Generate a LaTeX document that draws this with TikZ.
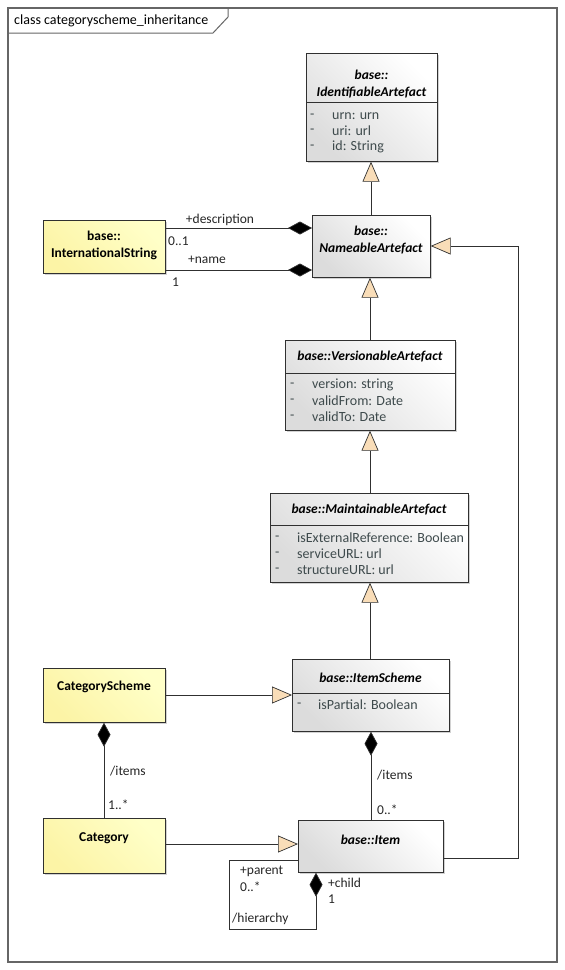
\documentclass[tikz,border=0pt]{standalone}
\usepackage{fontspec}
\setmainfont{Carlito}
\usetikzlibrary{arrows.meta,shadows}
\definecolor{peach}{HTML}{F9DDB8}
\definecolor{attrcol}{HTML}{3E4A4C}
\definecolor{linecol}{HTML}{303030}
\definecolor{yellowA}{HTML}{FFFFC8}
\definecolor{yellowB}{HTML}{FCF4A6}
\definecolor{grayA}{HTML}{DCDCDC}
\begin{document}
\begin{tikzpicture}[x=1pt,y=-1pt,
  basebox/.style={rectangle, draw=linecol, line width=0.7pt, inner sep=0pt, anchor=north west,
    drop shadow={shadow xshift=2pt, shadow yshift=-2pt, opacity=0.35, fill=gray}},
  graybox/.style={basebox, top color=white, bottom color=grayA, shading angle=-45},
  yellowbox/.style={basebox, top color=yellowA, bottom color=yellowB, shading angle=-45},
  divider/.style={draw=linecol, line width=0.7pt},
  ctitle/.style={font=\fontsize{13.5}{16.5}\selectfont\bfseries\itshape, align=center, inner sep=0pt, text=black},
  ytitle/.style={font=\fontsize{13.5}{16.5}\selectfont\bfseries, align=center, inner sep=0pt, text=black},
  attrdash/.style={font=\fontsize{14}{16}\selectfont, text=attrcol, inner sep=0pt, anchor=west},
  attrtext/.style={font=\fontsize{14}{16}\selectfont, text=attrcol, inner sep=0pt, anchor=west},
  lbl/.style={font=\fontsize{13.5}{16}\selectfont, text=black!85, inner sep=0pt},
  conn/.style={draw=linecol, line width=0.7pt},
  gen/.style={conn, -{Triangle[length=20pt, width=17pt, fill=peach, line width=0.7pt]}},
  comp/.style={conn, -{Diamond[length=24pt, width=13pt, fill=black, line width=0.7pt]}},
]
\useasboundingbox (0,0) rectangle (565,970);
% frame
\draw[draw=black!60, line width=1.2pt, fill=white] (8,8) rectangle (557,962);
\draw[draw=black!60, line width=1pt] (8,33) -- (213,33) -- (228,17) -- (228,8);
\node[font=\fontsize{14}{16}\selectfont, anchor=west, inner sep=0pt] (frametitle) at (14,20.5) {class categoryscheme\_inheritance};

% IdentifiableArtefact
\node[graybox, minimum width=131pt, minimum height=108pt] (ident) at (306,53) {};
\draw[divider] (306,102) -- (437,102);
\node[ctitle] (identT) at (371.5,84) {base::\\IdentifiableArtefact};
\node[attrdash] (identD1) at (310,116) {-};
\node[attrtext] (identA1) at (332,116) {urn: urn};
\node[attrdash] (identD2) at (310,131) {-};
\node[attrtext] (identA2) at (332,131) {uri: url};
\node[attrdash] (identD3) at (310,147) {-};
\node[attrtext] (identA3) at (332,147) {id: String};

% NameableArtefact
\node[graybox, minimum width=118pt, minimum height=62pt] (name) at (312,215) {};
\node[ctitle] (nameT) at (371,240) {base::\\NameableArtefact};

% InternationalString
\node[yellowbox, minimum width=122pt, minimum height=53pt] (intl) at (43,220) {};
\node[ytitle] (intlT) at (104,245.5) {base::\\InternationalString};

% VersionableArtefact
\node[graybox, minimum width=170pt, minimum height=90pt] (vers) at (285,340) {};
\draw[divider] (285,373) -- (455,373);
\node[ctitle] (versT) at (370,357) {base::VersionableArtefact};
\node[attrdash] (versD1) at (290,385) {-};
\node[attrtext] (versA1) at (312,385) {version: string};
\node[attrdash] (versD2) at (290,401) {-};
\node[attrtext] (versA2) at (312,401) {validFrom: Date};
\node[attrdash] (versD3) at (290,417) {-};
\node[attrtext] (versA3) at (312,417) {validTo: Date};

% MaintainableArtefact
\node[graybox, minimum width=198pt, minimum height=89pt] (maint) at (270,493) {};
\draw[divider] (270,525) -- (468,525);
\node[ctitle] (maintT) at (369,509.5) {base::MaintainableArtefact};
\node[attrdash] (maintD1) at (275,538) {-};
\node[attrtext] (maintA1) at (297,538) {isExternalReference: Boolean};
\node[attrdash] (maintD2) at (275,554) {-};
\node[attrtext] (maintA2) at (297,554) {serviceURL: url};
\node[attrdash] (maintD3) at (275,570) {-};
\node[attrtext] (maintA3) at (297,570) {structureURL: url};

% ItemScheme
\node[graybox, minimum width=157pt, minimum height=72pt] (isch) at (292,659) {};
\draw[divider] (292,693) -- (449,693);
\node[ctitle] (ischT) at (370.5,677.5) {base::ItemScheme};
\node[attrdash] (ischD1) at (297,705) {-};
\node[attrtext] (ischA1) at (318,705) {isPartial: Boolean};

% CategoryScheme
\node[yellowbox, minimum width=122pt, minimum height=54pt] (csch) at (43,668) {};
\node[ytitle] (cschT) at (104,687) {CategoryScheme};

% Category
\node[yellowbox, minimum width=122pt, minimum height=55pt] (cat) at (43,818) {};
\node[ytitle] (catT) at (104,838) {Category};

% Item
\node[graybox, minimum width=145pt, minimum height=52pt] (item) at (298,820) {};
\node[ctitle] (itemT) at (370.5,840) {base::Item};

% generalizations
\draw[gen] (name.north -| 371,0) -- (ident.south -| 371,0);
\draw[gen] (vers.north -| 370,0) -- (name.south -| 370,0);
\draw[gen] (maint.north -| 370,0) -- (vers.south -| 370,0);
\draw[gen] (isch.north -| 370,0) -- (maint.south -| 370,0);
\draw[gen] (csch.east |- 0,695) -- (isch.west |- 0,695);
\draw[gen] (cat.east |- 0,844) -- (item.west |- 0,844);
\coordinate (loopA) at (518,858);
\coordinate (loopB) at (518,246);
\draw[gen] (item.east |- 0,858) -- (loopA) -- (loopB) -- (name.east |- 0,246);

% compositions
\draw[comp] (intl.east |- 0,228) -- (name.west |- 0,228);
\draw[comp] (intl.east |- 0,270) -- (name.west |- 0,270);
\draw[comp] (cat.north -| 104,0) -- (csch.south -| 104,0);
\draw[comp] (item.north -| 371,0) -- (isch.south -| 371,0);
\coordinate (selfA) at (229,860);
\coordinate (selfB) at (229,929);
\coordinate (selfC) at (316,929);
\draw[comp] (item.west |- 0,860) -- (selfA) -- (selfB) -- (selfC) -- (item.south -| 316,0);

% labels
\node[lbl] (lDesc) at (220,220) {+description};
\node[lbl, anchor=west] (lDescM) at (168,241) {0..1};
\node[lbl] (lName) at (207,260) {+name};
\node[lbl, anchor=west] (lNameM) at (172,282) {1};
\node[lbl, anchor=west] (lItems1) at (110,771) {/items};
\node[lbl, anchor=west] (lItems1M) at (108,805) {1..*};
\node[lbl, anchor=west] (lItems2) at (377,775) {/items};
\node[lbl, anchor=west] (lItems2M) at (377,810) {0..*};
\node[lbl, anchor=west] (lParent) at (240,871) {+parent};
\node[lbl, anchor=west] (lParentM) at (240,887) {0..*};
\node[lbl, anchor=west] (lHier) at (232,919) {/hierarchy};
\node[lbl, anchor=west] (lChild) at (328,883) {+child};
\node[lbl, anchor=west] (lChildM) at (328,899) {1};
\end{tikzpicture}
\end{document}
